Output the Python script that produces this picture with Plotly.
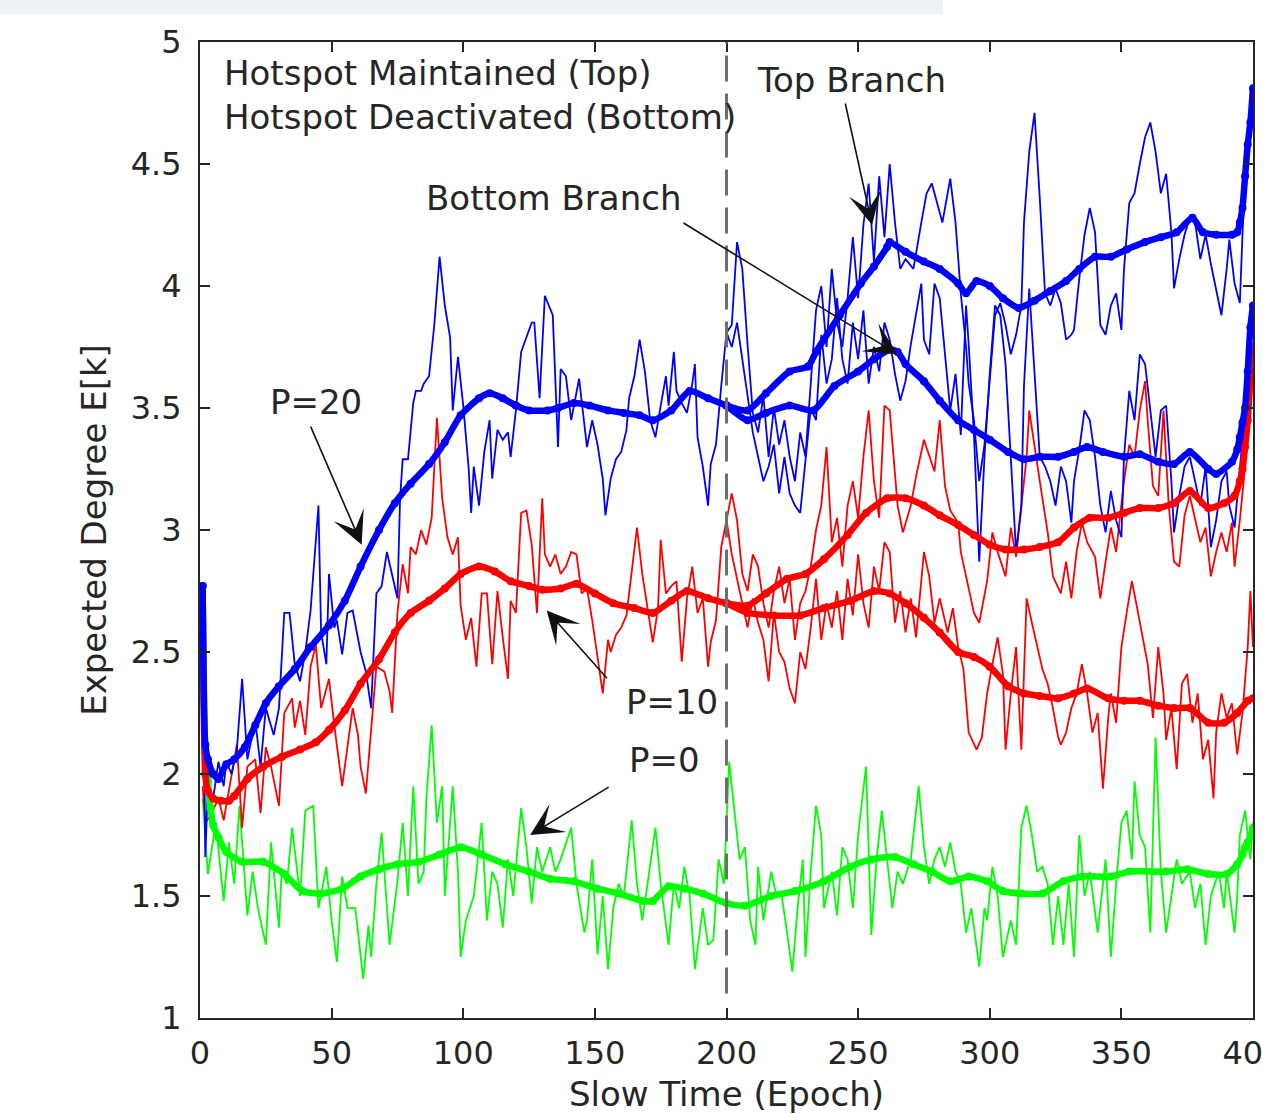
import plotly.graph_objects as go

# ---------------- data (epoch, expected degree) ----------------
GREEN_THIN = [(1,1.9),(3,1.59),(6,1.8),(9,1.48),(11,1.72),(13,1.55),(15,1.87),(18,1.42),(20,1.6),(22,1.45),(25,1.3),(27,1.72),(30,1.37),(31,1.6),(33,1.55),(35,1.78),(38,1.5),(40,1.85),(43,1.87),(45,1.45),(48,1.62),(50,1.4),(52,1.23),(54,1.58),(56,1.45),(59,1.45),(62,1.16),(64,1.38),(65,1.25),(67,1.55),(69,1.76),(71,1.45),(72,1.3),(75,1.56),(77,1.8),(79,1.5),(81,1.95),(83,1.55),(85,1.6),(86,1.9),(88,2.2),(90,1.8),(92,1.95),(93,1.5),(95,1.8),(96,1.95),(98,1.6),(99,1.25),(101,1.4),(104,1.5),(105,1.6),(107,1.8),(109,1.4),(111,1.6),(113,1.55),(115,1.37),(117,1.65),(119,1.5),(122,1.86),(124,1.7),(126,1.47),(128,1.7),(130,1.6),(133,1.7),(135,1.6),(137,1.65),(141,1.78),(143,1.55),(146,1.35),(147,1.4),(149,1.65),(151,1.26),(153,1.5),(155,1.2),(157,1.45),(159,1.55),(161,1.5),(164,1.81),(166,1.55),(168,1.4),(170,1.55),(173,1.78),(175,1.55),(178,1.3),(180,1.55),(182,1.45),(184,1.62),(186,1.5),(188,1.2),(191,1.45),(193,1.3),(195,1.32),(197,1.65),(199,1.55),(201,2.05),(203,1.85),(205,1.65),(207,1.7),(209,1.4),(211,1.3),(212,1.62),(214,1.4),(217,1.6),(219,1.5),(221,1.5),(223,1.35),(225,1.19),(227,1.45),(229,1.65),(230,1.25),(232,1.6),(234,1.87),(236,1.75),(237,1.45),(240,1.6),(242,1.42),(244,1.7),(246,1.65),(248,1.45),(250,1.75),(251,1.85),(253,2.03),(255,1.34),(257,1.65),(259,1.85),(261,1.65),(263,1.45),(265,1.6),(267,1.55),(270,1.65),(273,1.95),(275,1.7),(277,1.55),(279,1.65),(281,1.7),(283,1.62),(285,1.72),(287,1.6),(289,1.55),(291,1.35),(293,1.45),(296,1.21),(298,1.45),(299,1.4),(301,1.62),(303,1.5),(305,1.25),(308,1.4),(310,1.3),(312,1.78),(314,1.87),(316,1.75),(318,1.6),(320,1.62),(322,1.55),(324,1.3),(326,1.5),(328,1.3),(330,1.55),(332,1.25),(334,1.75),(336,1.5),(338,1.6),(341,1.35),(344,1.65),(346,1.25),(348,1.55),(350,1.8),(352,1.85),(354,1.65),(355,1.97),(357,1.75),(359,1.7),(361,1.35),(363,2.15),(365,1.6),(367,1.35),(369,1.5),(371,1.65),(373,1.55),(376,1.6),(378,1.45),(380,1.55),(382,1.3),(384,1.5),(387,1.6),(389,1.45),(390,1.6),(393,1.35),(394,1.5),(395,1.75),(397,1.85),(399,1.65),(400,1.8)]

GREEN_SMOOTH = [(1,2.77),(2,2.09),(3,1.97),(4,1.86),(5,1.79),(7,1.74),(10,1.68),(16,1.64),(24,1.64),(32,1.59),(39,1.52),(46,1.51),(54,1.53),(61,1.58),(68,1.61),(75,1.63),(83,1.64),(91,1.67),(99,1.7),(107,1.67),(116,1.63),(125,1.6),(133,1.57),(142,1.56),(151,1.53),(159,1.51),(168,1.48),(172,1.48),(178,1.54),(184,1.53),(191,1.51),(200,1.47),(207,1.46),(217,1.5),(226,1.52),(237,1.56),(247,1.62),(255,1.65),(264,1.66),(271,1.63),(278,1.6),(285,1.56),(292,1.58),(299,1.56),(305,1.52),(312,1.51),(320,1.51),(328,1.56),(335,1.58),(346,1.58),(353,1.6),(367,1.6),(375,1.61),(383,1.59),(390,1.59),(394,1.63),(396,1.67),(397,1.7),(398,1.72),(399,1.74),(400,1.78)]

RED_THIN = [(1,1.95),(2,1.8),(4,1.83),(7,1.9),(9,1.81),(12,2.0),(14,2.12),(16,1.78),(18,2.03),(21,2.06),(23,1.84),(25,2.11),(27,2.03),(30,1.87),(32,2.25),(35,2.31),(36,2.19),(38,2.3),(40,2.16),(42,2.44),(44,2.53),(46,2.27),(49,2.39),(51,2.2),(54,1.95),(56,2.11),(58,2.27),(60,2.16),(61,2.03),(63,1.92),(65,2.19),(67,2.44),(70,2.42),(72,2.34),(73,2.25),(75,2.66),(77,2.86),(79,2.74),(80,2.93),(82,2.9),(84,3.0),(86,2.94),(88,3.05),(90,3.46),(92,3.13),(94,2.97),(96,2.9),(98,2.97),(99,2.69),(101,2.55),(103,2.64),(105,2.44),(107,2.74),(109,2.74),(111,2.45),(113,2.75),(115,2.56),(117,2.39),(118,2.71),(120,2.66),(122,3.07),(124,3.08),(126,2.94),(128,2.66),(130,3.13),(131,2.9),(133,2.85),(135,2.9),(137,2.82),(139,2.85),(141,2.91),(143,2.9),(145,2.74),(147,2.76),(149,2.63),(151,2.47),(153,2.33),(155,2.55),(156,2.5),(158,2.57),(160,2.6),(162,2.65),(164,2.83),(166,3.01),(168,2.82),(170,2.68),(172,2.54),(174,2.68),(175,2.96),(177,2.74),(179,2.77),(181,2.79),(183,2.46),(185,2.72),(187,2.85),(189,2.66),(191,2.72),(193,2.44),(194,2.54),(196,2.63),(198,2.93),(200,3.04)]

RED_THIN_TOP = [(200,3.04),(202,3.15),(204,3.04),(206,2.82),(208,2.75),(210,2.9),(212,2.85),(214,2.7),(216,2.6),(218,2.75),(220,2.85),(222,2.7),(224,2.8),(226,2.55),(228,2.7),(230,2.75),(232,2.85),(234,3.0),(236,3.1),(238,3.34),(240,2.95),(242,3.05),(244,2.85),(246,3.1),(248,3.2),(250,3.05),(252,3.3),(254,3.49),(256,3.2),(258,3.05),(260,3.51),(262,3.49),(265,3.1),(267,2.99),(270,3.1),(272,3.22),(275,3.37),(277,3.3),(279,3.24),(281,3.45),(283,3.18),(285,3.08),(288,3.03),(289,2.91),(292,2.76),(294,2.66),(296,2.62),(299,2.79),(301,2.99),(303,2.91),(306,2.81),(308,3.01),(310,2.89),(312,3.1),(314,3.3),(315,3.49),(317,3.34),(319,3.2),(322,2.99),(324,2.81),(327,2.74),(329,2.87),(331,2.72),(333,2.91),(335,3.03),(337,2.95),(340,2.89),(342,2.72),(344,2.87),(346,3.01),(348,2.91),(351,3.2),(353,3.35),(355,3.3),(357,3.49),(359,3.61),(360,3.45),(362,3.18),(364,3.14),(366,3.49),(368,3.1),(370,2.87),(372,2.85),(374,3.06),(376,3.14),(378,3.04),(380,2.95),(382,3.01),(384,2.81),(386,2.91),(388,2.99),(390,2.91),(392,3.03),(393,2.85),(395,3.04),(397,3.26),(399,3.64),(400,3.75)]

RED_THIN_BOTTOM = [(200,3.04),(202,2.9),(204,2.8),(206,2.7),(208,2.6),(210,2.72),(212,2.62),(214,2.55),(216,2.38),(218,2.66),(220,2.5),(222,2.46),(224,2.35),(226,2.29),(228,2.5),(230,2.43),(232,2.6),(234,2.8),(236,2.55),(238,2.7),(240,2.6),(242,2.75),(244,2.55),(246,2.8),(248,2.65),(250,2.9),(252,2.7),(254,2.6),(256,2.85),(258,2.75),(260,2.95),(262,2.91),(264,2.62),(266,2.75),(268,2.58),(270,2.72),(272,2.56),(275,2.91),(277,2.81),(279,2.62),(281,2.72),(284,2.58),(286,2.68),(288,2.52),(290,2.43),(292,2.17),(295,2.1),(297,2.15),(299,2.33),(301,2.45),(303,2.56),(305,2.41),(306,2.1),(308,2.33),(310,2.52),(312,2.1),(314,2.72),(316,2.62),(318,2.52),(320,2.43),(322,2.37),(324,2.27),(326,2.15),(327,2.12),(329,2.17),(331,2.27),(333,2.33),(335,2.45),(337,2.33),(339,2.17),(341,2.25),(343,1.94),(345,2.23),(346,2.33),(348,2.21),(350,2.52),(352,2.66),(354,2.79),(356,2.68),(358,2.56),(360,2.45),(362,2.23),(364,2.52),(366,2.33),(367,2.14),(369,2.27),(371,2.02),(373,2.37),(375,2.41),(377,2.21),(379,2.33),(381,2.06),(383,2.14),(385,1.9),(386,2.17),(388,2.33),(390,2.23),(392,2.29),(394,2.08),(396,2.25),(398,2.52),(399,2.75),(400,2.52)]

RED_SMOOTH = [(1,2.77),(2,2.0),(3,1.93),(5,1.9),(8,1.89),(11,1.89),(13,1.91),(18,1.98),(24,2.03),(31,2.07),(38,2.1),(44,2.13),(49,2.18),(55,2.26),(61,2.37),(68,2.47),(74,2.58),(80,2.66),(87,2.71),(93,2.76),(99,2.82),(106,2.85),(112,2.83),(118,2.79),(125,2.77),(130,2.755),(137,2.76),(143,2.78),(150,2.74),(157,2.7),(165,2.68),(172,2.66),(179,2.71),(185,2.75),(193,2.72),(200,2.7)]

RED_SMOOTH_TOP = [(200,2.7),(208,2.69),(215,2.74),(223,2.8),(230,2.82),(237,2.88),(246,2.98),(253,3.07),(261,3.13),(268,3.13),(275,3.1),(281,3.06),(288,3.02),(294,2.98),(300,2.94),(306,2.92),(313,2.92),(319,2.93),(326,2.95),(332,3.01),(338,3.05),(345,3.05),(351,3.07),(357,3.09),(364,3.09),(370,3.11),(376,3.16),(383,3.09),(389,3.11),(393,3.14),(395,3.2),(396,3.25),(397,3.34),(398,3.45),(399,3.62),(400,3.75)]

RED_SMOOTH_BOTTOM = [(200,2.7),(208,2.66),(218,2.65),(228,2.65),(237,2.68),(247,2.71),(256,2.75),(262,2.74),(268,2.7),(275,2.64),(281,2.58),(288,2.5),(294,2.48),(300,2.44),(307,2.36),(313,2.33),(319,2.32),(326,2.31),(332,2.33),(337,2.35),(345,2.31),(351,2.3),(357,2.3),(364,2.28),(370,2.27),(376,2.27),(383,2.21),(389,2.21),(394,2.25),(398,2.3),(400,2.31)]

BLUE_THIN = [(1,2.77),(2,1.66),(3,1.95),(5,1.9),(7,2.05),(9,1.95),(10,2.05),(12,2.0),(14,2.1),(16,2.39),(18,2.06),(21,2.22),(23,2.03),(25,2.27),(28,2.16),(30,2.27),(32,2.66),(34,2.66),(36,2.45),(38,2.38),(40,2.5),(42,2.67),(45,3.1),(46,2.58),(48,2.45),(49,2.82),(51,2.6),(52,2.63),(54,2.49),(56,2.66),(58,2.67),(60,2.56),(61,2.5),(63,2.42),(65,2.27),(67,2.74),(69,2.77),(71,2.91),(73,2.82),(75,2.72),(76,3.13),(77,3.29),(79,3.29),(81,3.52),(82,3.57),(84,3.57),(85,3.6),(87,3.63),(89,3.84),(91,4.12),(93,3.92),(95,3.79),(96,3.49),(98,3.71),(100,3.51),(102,3.26),(103,3.07),(104,3.26),(106,3.1),(108,3.32),(110,3.45),(111,3.21),(113,3.41),(115,3.37),(117,3.4),(118,3.3),(120,3.49),(122,3.73),(124,3.79),(126,3.85),(127,3.85),(129,3.54),(131,3.96),(134,3.88),(136,3.34),(137,3.66),(139,3.63),(141,3.45),(144,3.62),(147,3.34),(149,3.45),(151,3.35),(153,3.21),(154,3.06),(156,3.21),(158,3.29),(160,3.32),(162,3.41),(163,3.54),(165,3.63),(167,3.78),(169,3.65),(171,3.45),(173,3.38),(175,3.51),(177,3.63),(178,3.51),(180,3.73),(181,3.57),(183,3.52),(185,3.48),(187,3.6),(188,3.68),(189,3.38),(191,3.26),(193,3.1),(194,3.27),(196,3.35),(198,3.59),(200,3.81)]

BLUE_THIN_TOP = [(200,3.81),(202,3.84),(204,4.18),(206,4.07),(208,3.76),(210,3.48),(212,3.4),(214,3.55),(216,3.3),(218,3.5),(220,3.35),(222,3.45),(224,3.3),(226,3.2),(228,3.4),(230,3.3),(232,3.6),(234,3.9),(236,4.0),(238,3.75),(240,4.07),(242,3.85),(244,3.75),(246,3.95),(248,4.2),(250,3.95),(252,4.25),(254,4.42),(256,4.1),(258,4.45),(260,4.2),(262,4.5),(264,4.26),(266,4.07),(268,4.11),(271,4.07),(274,4.26),(276,4.38),(278,4.42),(280,4.34),(282,4.26),(284,4.38),(285,4.44),(287,4.26),(289,3.97),(291,3.75),(292,3.6),(294,3.45),(296,3.2),(298,3.35),(300,3.6),(302,3.88),(304,3.93),(306,3.84),(308,3.72),(310,3.8),(312,3.92),(313,4.26),(315,4.55),(317,4.71),(319,4.36),(321,3.97),(323,3.92),(325,3.99),(327,3.93),(329,3.78),(331,3.8),(332,3.82),(334,4.03),(336,4.21),(338,4.32),(340,4.22),(342,3.84),(344,3.8),(346,3.92),(348,3.97),(350,3.82),(351,4.07),(353,4.34),(355,4.38),(357,4.5),(359,4.61),(361,4.67),(363,4.55),(365,4.38),(367,4.46),(369,4.22),(370,3.99),(372,4.11),(374,4.21),(376,4.28),(378,4.26),(380,4.11),(382,4.21),(384,4.09),(386,3.99),(388,3.88),(390,4.07),(391,4.19),(393,4.01),(395,3.93),(396,4.21),(398,4.65),(400,4.8)]

BLUE_THIN_BOTTOM = [(200,3.81),(202,3.75),(204,3.85),(206,3.7),(208,3.55),(210,3.4),(212,3.3),(214,3.2),(216,3.26),(218,3.35),(220,3.15),(222,3.3),(224,3.15),(226,3.1),(228,3.07),(230,3.3),(232,3.5),(234,3.45),(236,3.8),(238,3.6),(240,3.7),(242,3.95),(244,3.7),(246,3.6),(248,3.85),(250,3.7),(252,3.9),(254,3.6),(256,3.75),(258,3.65),(260,3.85),(262,3.78),(264,3.64),(266,3.53),(268,3.61),(270,3.76),(272,3.88),(274,4.01),(275,3.78),(277,3.72),(279,4.01),(281,3.95),(283,3.72),(285,3.49),(287,3.64),(289,3.39),(291,3.92),(292,3.76),(294,3.39),(296,2.87),(298,3.3),(300,3.64),(302,3.92),(304,3.88),(306,3.68),(308,3.3),(310,2.91),(312,3.1),(313,3.59),(315,3.99),(317,3.64),(319,3.3),(321,3.26),(323,3.2),(325,3.1),(327,3.26),(329,3.2),(331,3.03),(332,3.2),(334,3.33),(336,3.49),(338,3.45),(340,3.3),(342,3.1),(344,2.99),(346,3.16),(348,3.04),(350,2.97),(351,3.3),(353,3.57),(355,3.45),(357,3.72),(359,3.68),(361,3.49),(363,3.3),(365,3.49),(367,3.51),(369,3.2),(370,2.99),(372,3.14),(374,3.26),(376,3.3),(378,3.2),(380,3.1),(382,3.26),(384,2.93),(386,3.04),(388,3.2),(390,3.24),(391,3.1),(393,3.01),(395,3.26),(397,3.49),(399,3.84),(400,3.92)]

BLUE_SMOOTH = [(1,2.77),(2,2.12),(3,2.06),(5,2.0),(7,1.98),(10,2.04),(13,2.06),(17,2.11),(21,2.2),(25,2.29),(30,2.36),(36,2.43),(42,2.52),(49,2.61),(55,2.71),(61,2.85),(68,3.0),(74,3.11),(80,3.19),(87,3.27),(93,3.36),(99,3.47),(106,3.54),(110,3.56),(115,3.54),(120,3.51),(125,3.49),(132,3.49),(136,3.5),(142,3.52),(148,3.51),(155,3.49),(161,3.48),(167,3.47),(172,3.45),(179,3.49),(186,3.57),(193,3.54),(200,3.51)]

BLUE_SMOOTH_TOP = [(200,3.51),(208,3.49),(215,3.56),(224,3.65),(231,3.67),(234,3.73),(243,3.88),(251,4.01),(256,4.08),(261,4.16),(262,4.18),(268,4.14),(275,4.1),(281,4.07),(288,4.01),(291,3.97),(295,4.02),(300,4.0),(305,3.95),(311,3.91),(317,3.94),(323,3.98),(329,4.02),(334,4.07),(340,4.12),(346,4.12),(352,4.15),(359,4.18),(365,4.2),(371,4.22),(377,4.28),(381,4.22),(386,4.21),(392,4.21),(394,4.22),(395,4.26),(396,4.32),(397,4.45),(398,4.58),(399,4.67),(400,4.81)]

BLUE_SMOOTH_BOTTOM = [(200,3.51),(208,3.45),(215,3.48),(224,3.51),(233,3.49),(241,3.59),(250,3.65),(256,3.7),(262,3.74),(265,3.73),(268,3.68),(275,3.61),(281,3.53),(288,3.45),(294,3.41),(300,3.37),(307,3.32),(313,3.29),(319,3.3),(326,3.3),(332,3.32),(337,3.34),(343,3.32),(351,3.3),(357,3.31),(364,3.28),(370,3.27),(376,3.32),(383,3.25),(386,3.23),(392,3.28),(394,3.33),(395,3.38),(396,3.44),(397,3.5),(398,3.65),(399,3.83),(400,3.92)]

X_TICKS = [0, 50, 100, 150, 200, 250, 300, 350, 400]
Y_TICKS = [1, 1.5, 2, 2.5, 3, 3.5, 4, 4.5, 5]
Y_TICK_TEXT = ["1", "1.5", "2", "2.5", "3", "3.5", "4", "4.5", "5"]

BLUE = "#0000ff"
RED = "#ff0000"
GREEN = "#00ff00"
TXT = "#262626"
FONT = "DejaVu Sans"


def xy(pairs):
    return [p[0] for p in pairs], [p[1] for p in pairs]


fig = go.Figure()

thin_series = [
    (GREEN_THIN, GREEN), (RED_THIN, RED), (RED_THIN_TOP, RED), (RED_THIN_BOTTOM, RED),
    (BLUE_THIN, BLUE), (BLUE_THIN_TOP, BLUE), (BLUE_THIN_BOTTOM, BLUE),
]
for pairs, col in thin_series:
    x, y = xy(pairs)
    fig.add_trace(go.Scatter(x=x, y=y, mode="lines", line=dict(color=col, width=1.8),
                             showlegend=False, hoverinfo="skip"))

thick_series = [
    (GREEN_SMOOTH, GREEN), (RED_SMOOTH, RED), (RED_SMOOTH_TOP, RED), (RED_SMOOTH_BOTTOM, RED),
    (BLUE_SMOOTH, BLUE), (BLUE_SMOOTH_TOP, BLUE), (BLUE_SMOOTH_BOTTOM, BLUE),
]
for pairs, col in thick_series:
    x, y = xy(pairs)
    fig.add_trace(go.Scatter(x=x, y=y, mode="lines+markers",
                             line=dict(color=col, width=6.5, shape="spline", smoothing=0.6),
                             marker=dict(color=col, size=8),
                             showlegend=False, hoverinfo="skip"))

# dashed vertical divider at the hotspot switch epoch
fig.add_shape(type="line", xref="x", yref="y", x0=200, x1=200, y0=1.1, y1=5,
              line=dict(color="#6e6e6e", width=3, dash="26px,12px"), layer="above")

# light page band at the very top
fig.add_shape(type="rect", xref="paper", yref="paper", x0=-0.19, x1=0.7056,
              y0=1.0287, y1=1.06, fillcolor="#eef2f7", line=dict(width=0), layer="above")

texts = [
    ("Hotspot Maintained (Top)", 8.4, 4.873),
    ("Hotspot Deactivated (Bottom)", 8.4, 4.693),
    ("Top Branch", 210.8, 4.844),
    ("Bottom Branch", 85.1, 4.361),
    ("P=20", 25.8, 3.525),
    ("P=10", 161.1, 2.295),
    ("P=0", 162.2, 2.057),
]
for t, x, y in texts:
    fig.add_annotation(x=x, y=y, text=t, showarrow=False, xanchor="left", yanchor="middle",
                       font=dict(family=FONT, size=34, color=TXT))

arrows = [  # (head x, head y, tail x, tail y)
    (255.3, 4.25, 245.0, 4.754),
    (265.0, 3.72, 183.1, 4.262),
    (61.4, 2.94, 41.8, 3.43),
    (131.7, 2.67, 155.1, 2.386),
    (125.4, 1.75, 155.8, 1.95),
]
for hx, hy, tx, ty in arrows:
    fig.add_annotation(x=hx, y=hy, ax=tx, ay=ty, axref="x", ayref="y", text="",
                       showarrow=True, arrowhead=3, arrowsize=3.4, arrowwidth=1.6,
                       arrowcolor="#111111", standoff=0, startstandoff=0)

axis_common = dict(
    showline=True, linecolor=TXT, linewidth=2, mirror="allticks",
    ticks="inside", ticklen=10, tickwidth=1.5, tickcolor=TXT,
    showgrid=False, zeroline=False,
    tickfont=dict(family=FONT, size=32, color=TXT),
    automargin=False, ticklabeloverflow="allow",
)

fig.update_xaxes(range=[0, 400], tickvals=X_TICKS, ticklabelstandoff=6,
                 title=dict(text="Slow Time (Epoch)", font=dict(family=FONT, size=34, color=TXT), standoff=26),
                 **axis_common)
fig.update_yaxes(range=[1, 5], tickvals=Y_TICKS, ticktext=Y_TICK_TEXT, ticklabelstandoff=10,
                 title=dict(text="Expected Degree E[k]", font=dict(family=FONT, size=34, color=TXT), standoff=14),
                 **axis_common)

fig.update_layout(
    width=1263, height=1114,
    margin=dict(l=200, r=10, t=42, b=96, pad=0),
    paper_bgcolor="white", plot_bgcolor="white",
    showlegend=False, hovermode=False,
    font=dict(family=FONT, color=TXT),
)

fig.write_html("out.html")
